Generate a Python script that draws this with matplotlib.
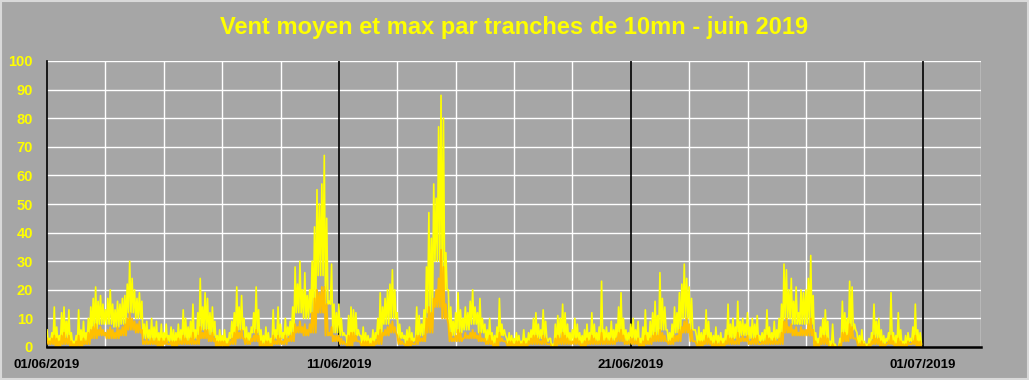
import numpy as np
import matplotlib
matplotlib.use("Agg")
import matplotlib.pyplot as plt
from matplotlib.patches import Rectangle

# vent max (km/h) : pic lu toutes les 2 h, une ligne par jour (01/06 -> 30/06)
vent_max = [
    6, 3, 5, 14, 7, 4, 12, 14, 9, 13, 5, 2,
    4, 13, 6, 9, 5, 10, 14, 17, 21, 16, 18, 15,
    13, 17, 20, 15, 13, 16, 15, 17, 18, 22, 30, 24,
    20, 17, 19, 16, 8, 9, 6, 10, 7, 9, 5, 8,
    5, 8, 4, 7, 6, 5, 8, 6, 13, 10, 7, 9,
    15, 6, 12, 24, 14, 19, 17, 12, 14, 9, 4, 6,
    4, 6, 3, 5, 9, 12, 21, 14, 18, 10, 7, 5,
    7, 12, 21, 13, 6, 4, 7, 5, 3, 13, 6, 14,
    8, 5, 10, 7, 9, 14, 28, 22, 30, 20, 26, 18,
    20, 30, 42, 55, 50, 57, 67, 45, 16, 29, 15, 12,
    15, 10, 5, 4, 11, 14, 13, 12, 6, 4, 7, 5,
    4, 3, 6, 5, 10, 19, 14, 17, 20, 22, 27, 20,
    12, 8, 5, 4, 6, 7, 5, 3, 14, 11, 8, 13,
    28, 47, 38, 57, 52, 77, 88, 80, 33, 20, 14, 9,
    12, 19, 13, 10, 14, 12, 16, 20, 14, 12, 17, 10,
    8, 6, 10, 5, 4, 7, 17, 8, 6, 3, 5, 4,
    3, 5, 4, 2, 6, 3, 5, 6, 10, 12, 8, 6,
    13, 9, 2, 3, 1, 8, 11, 10, 15, 12, 8, 5,
    6, 10, 8, 5, 4, 6, 8, 5, 12, 8, 5, 7,
    23, 6, 7, 5, 9, 6, 8, 14, 19, 10, 6, 5,
    8, 10, 6, 9, 3, 7, 13, 5, 9, 12, 16, 11,
    26, 17, 14, 6, 5, 8, 14, 12, 19, 22, 29, 24,
    21, 17, 6, 4, 7, 5, 6, 13, 9, 5, 4, 7,
    4, 5, 3, 6, 15, 8, 10, 7, 16, 9, 10, 8,
    12, 7, 10, 8, 11, 4, 5, 6, 13, 7, 5, 9,
    6, 10, 15, 29, 27, 20, 24, 16, 21, 12, 20, 19,
    20, 24, 32, 18, 5, 3, 7, 10, 13, 9, 2, 8,
    1, 0, 3, 16, 12, 10, 23, 21, 8, 5, 4, 6,
    2, 1, 3, 5, 15, 9, 10, 6, 4, 3, 5, 19,
    5, 4, 12, 6, 2, 4, 5, 3, 7, 15, 6, 5,
]

# vent max : creux lus par tranche de 6 h (4 par jour)
vent_max_bas = [
    2, 1, 3, 1,   1, 2, 6, 8,   8, 7, 8, 12,  10, 3, 2, 1,
    2, 1, 2, 2,   3, 6, 4, 1,   1, 3, 6, 2,   5, 1, 1, 3,
    3, 4, 12, 10, 12, 25, 15, 5, 4, 1, 4, 1,   1, 3, 8, 10,
    3, 1, 2, 4,   12, 30, 20, 4, 5, 6, 8, 5,  2, 1, 4, 1,
    1, 1, 2, 3,   3, 0, 3, 2,   2, 1, 2, 2,   2, 2, 3, 2,
    2, 1, 2, 4,   6, 2, 5, 10,  6, 1, 2, 1,   1, 2, 3, 4,
    3, 2, 2, 2,   3, 10, 8, 8,  8, 1, 3, 0,   0, 4, 6, 1,
    0, 3, 1, 2,   1, 0, 2, 1,
]

# vent moyen (km/h) : toutes les 2 h
vent_moyen = [
    3, 2, 3, 4, 3, 2, 4, 5, 3, 4, 2, 1,
    2, 4, 2, 3, 2, 5, 6, 7, 8, 6, 7, 6,
    5, 6, 7, 6, 5, 7, 6, 7, 8, 10, 12, 10,
    9, 8, 9, 6, 2, 3, 2, 3, 2, 3, 2, 3,
    2, 3, 1, 2, 2, 2, 3, 2, 4, 3, 2, 3,
    5, 2, 4, 7, 5, 6, 6, 4, 5, 3, 2, 2,
    2, 2, 1, 2, 3, 5, 7, 5, 6, 3, 3, 2,
    3, 4, 6, 4, 2, 1, 2, 2, 1, 4, 2, 4,
    3, 2, 4, 3, 4, 5, 8, 7, 9, 7, 8, 6,
    8, 12, 17, 20, 19, 21, 21, 15, 5, 7, 4, 4,
    4, 3, 2, 1, 4, 5, 5, 4, 2, 1, 2, 2,
    2, 1, 2, 2, 4, 6, 5, 6, 7, 8, 9, 7,
    4, 3, 2, 1, 2, 3, 2, 1, 4, 4, 3, 4,
    10, 14, 12, 17, 20, 24, 34, 28, 15, 8, 5, 3,
    4, 6, 5, 3, 5, 4, 5, 6, 5, 4, 5, 3,
    3, 2, 4, 2, 1, 3, 5, 3, 2, 1, 2, 2,
    1, 2, 2, 1, 2, 1, 2, 3, 4, 4, 3, 2,
    4, 3, 1, 1, 0, 3, 4, 3, 5, 4, 3, 2,
    2, 3, 3, 2, 1, 2, 3, 2, 4, 3, 2, 2,
    5, 2, 3, 2, 3, 2, 3, 5, 6, 4, 2, 2,
    3, 3, 2, 3, 1, 2, 4, 2, 3, 4, 5, 4,
    6, 5, 4, 2, 2, 3, 4, 4, 6, 7, 9, 10,
    8, 6, 2, 1, 2, 2, 2, 4, 3, 2, 1, 2,
    1, 2, 1, 2, 4, 3, 3, 2, 5, 3, 4, 3,
    4, 2, 3, 3, 4, 1, 2, 2, 4, 3, 2, 3,
    2, 3, 5, 9, 10, 7, 8, 6, 7, 5, 7, 6,
    6, 8, 10, 6, 2, 1, 3, 4, 4, 3, 0, 1,
    0, 0, 1, 5, 5, 4, 8, 7, 3, 2, 1, 2,
    1, 0, 1, 2, 4, 3, 3, 2, 1, 1, 2, 4,
    2, 1, 3, 2, 1, 1, 2, 1, 2, 4, 2, 2,
]

# vent moyen : creux par tranche de 6 h
vent_moyen_bas = [
    1, 0, 1, 0,   0, 1, 3, 4,   3, 3, 4, 6,   5, 1, 1, 0,
    1, 0, 1, 1,   1, 3, 2, 0,   0, 1, 3, 1,   2, 0, 0, 1,
    1, 2, 5, 4,   5, 12, 4, 2,  1, 0, 2, 0,   0, 1, 4, 5,
    1, 0, 1, 2,   5, 14, 10, 2, 2, 3, 3, 2,   1, 0, 2, 0,
    0, 0, 1, 1,   1, 0, 1, 1,   1, 0, 1, 1,   1, 1, 2, 1,
    1, 0, 1, 2,   2, 1, 2, 5,   2, 0, 1, 0,   0, 1, 1, 2,
    1, 1, 1, 1,   1, 5, 4, 4,   4, 0, 1, 0,   0, 2, 3, 0,
    0, 1, 0, 1,   0, 0, 1, 0,
]

date_labels = ["01/06/2019", "11/06/2019", "21/06/2019", "01/07/2019"]
date_pos = [0, 10, 20, 30]

gris = "#A6A6A6"
jaune = "#FFFF00"
orange = "#FFC000"


def serie(hauts, bas):
    # pic de chaque tranche de 2 h puis creux de la tranche de 6 h, 1 h plus tard
    t, v = [], []
    for i, h in enumerate(hauts):
        t += [i / 12.0, i / 12.0 + 1 / 24.0]
        v += [h, bas[i // 3]]
    return np.array(t), np.array(v)


t_max, v_max = serie(vent_max, vent_max_bas)
t_moy, v_moy = serie(vent_moyen, vent_moyen_bas)

fig = plt.figure(figsize=(10.29, 3.80), dpi=100, facecolor=gris)
ax = fig.add_axes([47 / 1029, 33 / 380, 934 / 1029, 286 / 380])
ax.set_facecolor(gris)

# grille
for y in range(10, 101, 10):
    ax.axhline(y, color="white", lw=1.0, zorder=1)
for x in range(2, 33, 2):
    if x in date_pos:
        continue
    ax.axvline(x, color="white", lw=1.0, zorder=1)
for x in date_pos[1:]:
    ax.axvline(x, color="black", lw=1.2, zorder=1)

ax.plot(t_max, v_max, color=jaune, lw=1.2, zorder=3)
ax.plot(t_moy, v_moy, color=orange, lw=1.3, zorder=4)

ax.set_xlim(0, 32)
ax.set_ylim(0, 100)
ax.set_yticks(range(0, 101, 10))
ax.set_xticks(date_pos)
ax.set_xticklabels(date_labels)

for s in ["top", "right"]:
    ax.spines[s].set_visible(False)
ax.spines["left"].set_color("black")
ax.spines["left"].set_linewidth(1.2)
ax.spines["bottom"].set_color("black")
ax.spines["bottom"].set_linewidth(1.8)
ax.spines["bottom"].set_zorder(5)

ax.tick_params(axis="both", length=0)
ax.tick_params(axis="y", pad=10, labelcolor=jaune)
ax.tick_params(axis="x", pad=9, labelcolor="black")
for lab in ax.get_yticklabels():
    lab.set_fontfamily("Liberation Sans")
    lab.set_fontweight("bold")
    lab.set_fontsize(10.5)
for lab in ax.get_xticklabels():
    lab.set_fontfamily("Liberation Sans")
    lab.set_fontweight("bold")
    lab.set_fontsize(9.5)

fig.text(0.5, 1 - 34 / 380, "Vent moyen et max par tranches de 10mn - juin 2019",
         ha="center", va="baseline", color=jaune, fontsize=17,
         fontweight="bold", family="Liberation Sans")

# bordure claire autour du graphique
fig.patches.append(Rectangle((0.0005, 0.0015), 0.999, 0.997, transform=fig.transFigure,
                             fill=False, edgecolor="#D9D9D9", lw=1.5))

fig.savefig("out.png", dpi=100, facecolor=gris)
